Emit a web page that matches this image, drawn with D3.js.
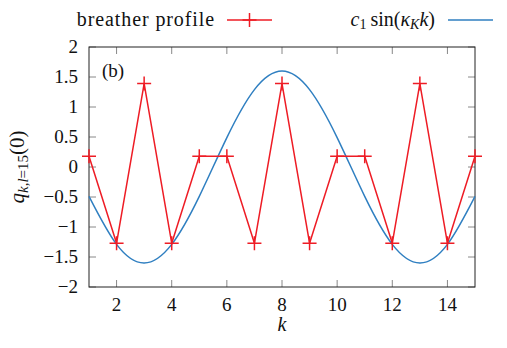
<!DOCTYPE html>
<html>
<head>
<meta charset="utf-8">
<script src="https://cdn.jsdelivr.net/npm/d3@7"></script>
</head>
<body style="margin:0;background:#fff">
<svg id="chart" width="507" height="348"></svg>
<script>
// breather profile (red, with + markers)
const profileK = [1, 2, 3, 4, 5, 6, 7, 8, 9, 10, 11, 12, 13, 14, 15];
const profileQ = [0.18, -1.27, 1.39, -1.27, 0.18, 0.18, -1.27, 1.39, -1.27, 0.18, 0.18, -1.27, 1.39, -1.27, 0.18];

// c1 sin(kappa_K k) curve, read at integer k (smoothed by d3.curveNatural)
const curveK = [1, 2, 3, 4, 5, 6, 7, 8, 9, 10, 11, 12, 13, 14, 15];
const curveQ = [-0.49, -1.29, -1.6, -1.29, -0.49, 0.49, 1.29, 1.6, 1.29, 0.49, -0.49, -1.29, -1.6, -1.29, -0.49];

const xTicks = [2, 4, 6, 8, 10, 12, 14];
const yTicks = [-2, -1.5, -1, -0.5, 0, 0.5, 1, 1.5, 2];

const red = "#ee1c25";
const blue = "#2f7fc1";
const serif = "'Liberation Serif', serif";

const svg = d3.select("#chart");
const margin = {left: 89, right: 32, top: 47, bottom: 61};
const W = 507, H = 348;

const x = d3.scaleLinear().domain([1, 15]).range([margin.left, W - margin.right]);
const y = d3.scaleLinear().domain([-2, 2]).range([H - margin.bottom, margin.top]);

const fmt = v => (v < 0 ? "\u2212" : "") + Math.abs(v);

// small helper so fonts are set as inline style
const label = (sel, size, italic) => sel
    .style("font-family", serif)
    .style("font-size", size + "px")
    .style("font-style", italic ? "italic" : "normal")
    .style("fill", "#111");

// ticks (inward, mirrored)
const tickLen = 7;
const ticks = svg.append("g").attr("stroke", "#888").attr("stroke-width", 1);
xTicks.forEach(t => {
    ticks.append("line").attr("x1", x(t)).attr("x2", x(t))
        .attr("y1", y(-2)).attr("y2", y(-2) - tickLen);
    ticks.append("line").attr("x1", x(t)).attr("x2", x(t))
        .attr("y1", y(2)).attr("y2", y(2) + tickLen);
});
yTicks.forEach(t => {
    ticks.append("line").attr("x1", x(1)).attr("x2", x(1) + tickLen)
        .attr("y1", y(t)).attr("y2", y(t));
    ticks.append("line").attr("x1", x(15)).attr("x2", x(15) - tickLen)
        .attr("y1", y(t)).attr("y2", y(t));
});

// border
svg.append("rect")
    .attr("x", x(1)).attr("y", y(2))
    .attr("width", x(15) - x(1)).attr("height", y(-2) - y(2))
    .attr("fill", "none").attr("stroke", "#222").attr("stroke-width", 1);

// tick labels
svg.append("g").selectAll("text")
    .data(xTicks).join("text")
    .attr("x", d => x(d)).attr("y", y(-2) + 24)
    .attr("text-anchor", "middle")
    .call(label, 19)
    .text(d => d);
svg.append("g").selectAll("text")
    .data(yTicks).join("text")
    .attr("x", x(1) - 11).attr("y", d => y(d) + 6)
    .attr("text-anchor", "end")
    .call(label, 19)
    .text(fmt);

// curve
const curveLine = d3.line()
    .x((d, i) => x(curveK[i]))
    .y(d => y(d))
    .curve(d3.curveNatural);
svg.append("path")
    .attr("d", curveLine(curveQ))
    .attr("fill", "none").attr("stroke", blue).attr("stroke-width", 1.5);

// breather profile
const profLine = d3.line()
    .x((d, i) => x(profileK[i]))
    .y(d => y(d));
svg.append("path")
    .attr("d", profLine(profileQ))
    .attr("fill", "none").attr("stroke", red).attr("stroke-width", 1.5);

const plus = (g, cx, cy, s) => {
    g.append("path")
        .attr("d", `M${cx - s},${cy}H${cx + s}M${cx},${cy - s}V${cy + s}`)
        .attr("stroke", red).attr("stroke-width", 1.5).attr("fill", "none");
};
const markers = svg.append("g");
profileQ.forEach((q, i) => plus(markers, x(profileK[i]), y(q), 7));

// panel label
svg.append("text").attr("x", 102).attr("y", 77)
    .call(label, 19).text("(b)");

// axis labels
svg.append("text").attr("x", x(8)).attr("y", 331)
    .attr("text-anchor", "middle")
    .call(label, 20, true).text("k");

const yl = svg.append("text")
    .attr("transform", `translate(24,${y(0)}) rotate(-90)`)
    .attr("text-anchor", "middle")
    .call(label, 21);
yl.append("tspan").style("font-style", "italic").text("q");
yl.append("tspan").style("font-size", "15px").attr("dy", 4)
    .style("font-style", "italic").text("k,l");
yl.append("tspan").style("font-size", "15px").text("=15");
yl.append("tspan").attr("dy", -4).text("(0)");

// legend
const legY = 20;
svg.append("text").attr("x", 215).attr("y", legY + 6)
    .attr("text-anchor", "end")
    .call(label, 20)
    .style("letter-spacing", "0.9px").text("breather profile");
svg.append("line").attr("x1", 227).attr("x2", 272).attr("y1", legY).attr("y2", legY)
    .attr("stroke", red).attr("stroke-width", 1.5);
plus(svg, 249.5, legY, 7);

const lt = svg.append("text").attr("x", 435).attr("y", legY + 6)
    .attr("text-anchor", "end")
    .call(label, 20);
lt.append("tspan").style("font-style", "italic").text("c");
lt.append("tspan").style("font-size", "14px").attr("dy", 3).text("1");
lt.append("tspan").attr("dy", -3).text("\u2009sin(");
lt.append("tspan").style("font-style", "italic").text("\u03ba");
lt.append("tspan").style("font-size", "14px").attr("dy", 3).style("font-style", "italic").text("K");
lt.append("tspan").attr("dy", -3).style("font-style", "italic").text("k");
lt.append("tspan").text(")");
svg.append("line").attr("x1", 448).attr("x2", 493).attr("y1", legY).attr("y2", legY)
    .attr("stroke", blue).attr("stroke-width", 1.5);
</script>
</body>
</html>
